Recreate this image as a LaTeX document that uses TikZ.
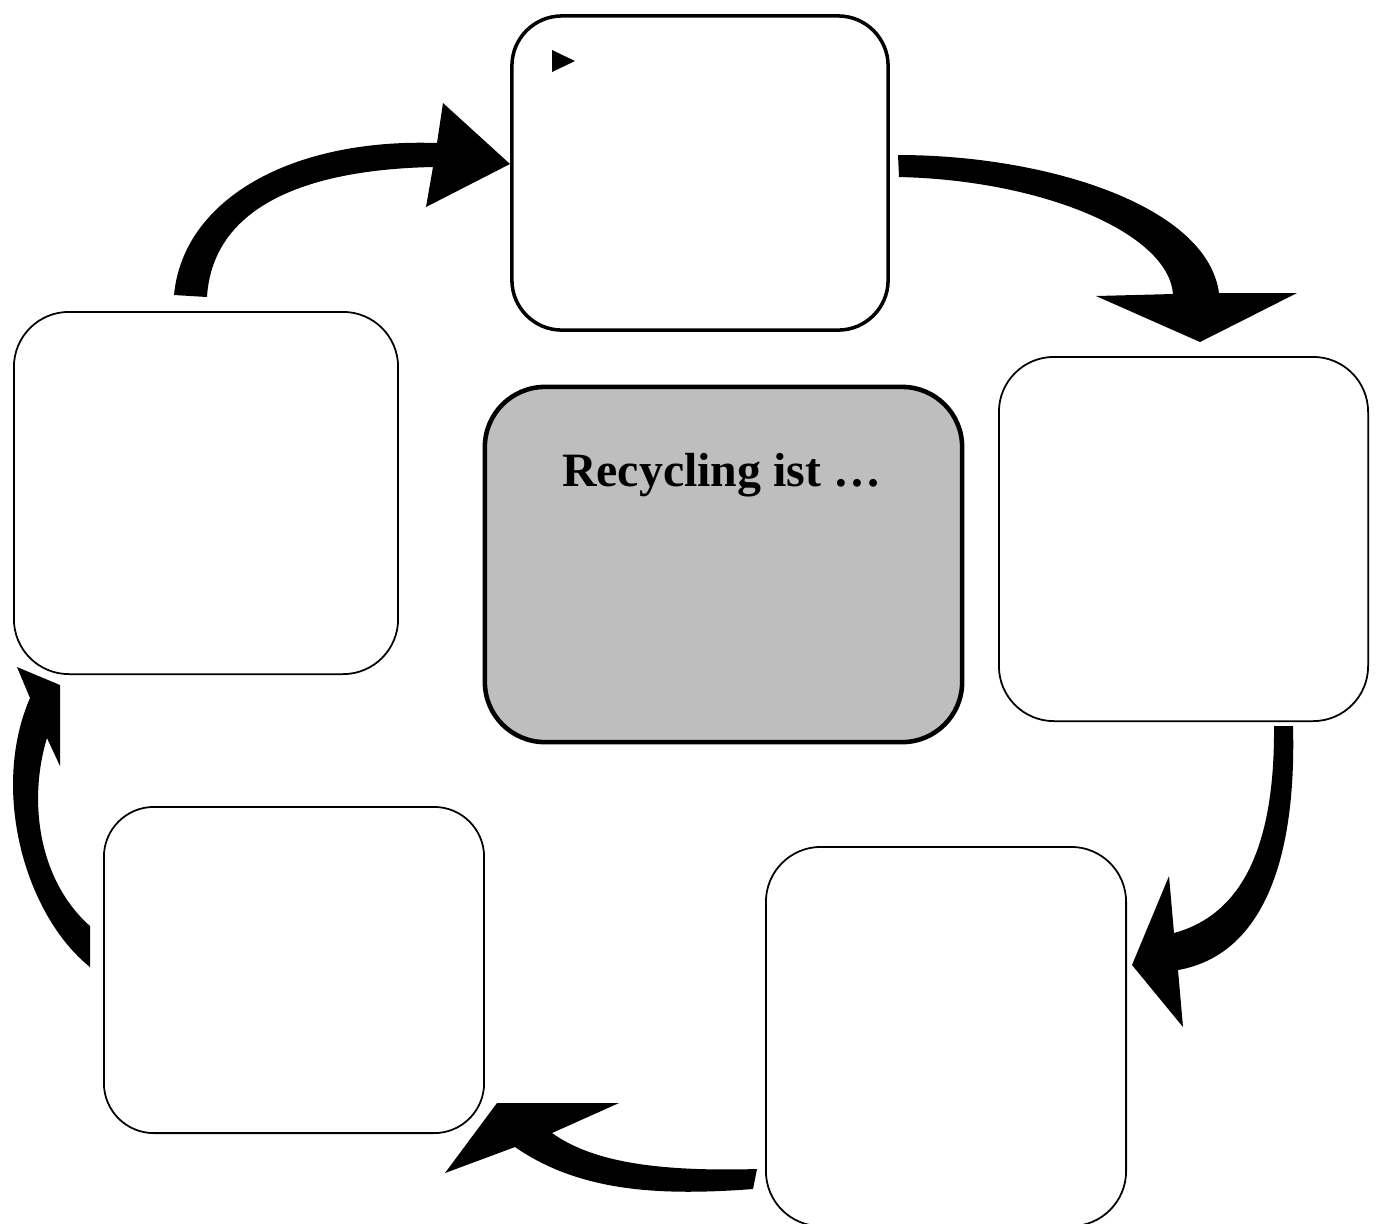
\documentclass[tikz,border=0pt]{standalone}
\usepackage{fontspec}
\setmainfont{Liberation Serif}
\definecolor{boxgray}{HTML}{BEBEBE}

\begin{document}
\begin{tikzpicture}[x=0.01cm,y=-0.01cm,
	stage/.style={draw, rectangle, rounded corners=0.55cm, line width=0.5pt, inner sep=0pt, outer sep=0pt},
	blockarrow/.style={fill=black}]
		\useasboundingbox (0,0) rectangle (1376,1223);

		\node[stage, line width=1pt, rounded corners=0.5cm, minimum width=3.76cm, minimum height=3.14cm] (boxtop) at (700,173) {};
		\node[stage, minimum width=3.69cm, minimum height=3.64cm] (boxright) at (1183.5,539) {};
		\node[stage, minimum width=3.60cm, minimum height=3.79cm] (boxlowright) at (946,1036.5) {};
		\node[stage, rounded corners=0.5cm, minimum width=3.80cm, minimum height=3.26cm] (boxlowleft) at (294,970) {};
		\node[stage, minimum width=3.84cm, minimum height=3.62cm] (boxleft) at (206,493) {};

		\node[stage, fill=boxgray, line width=1.3pt, rounded corners=0.6cm, minimum width=4.77cm, minimum height=3.55cm] (centre) at (723.5,564.5) {};
		\node[anchor=base, font=\bfseries\fontsize{13.6}{16}\selectfont] (title) at (721.5,486) {Recycling ist …};

		% bullet in the top box
		\fill (552,50) -- (575,61) -- (552,72) -- cycle;

		% left -> top
		\fill[blockarrow] (174,295) .. controls (183,200) and (290,138) .. (437,143) -- (443,103) -- (510,164) -- (426,207) -- (433,167) .. controls (290,170) and (212,215) .. (207,297) -- cycle;
		% top -> right
		\fill[blockarrow] (898,155) .. controls (1045,155) and (1207,205) .. (1219,293) -- (1297,293) -- (1200,342) -- (1096,296) -- (1173,294) .. controls (1168,232) and (1040,180) .. (899,177) -- cycle;
		% right -> lower right
		\fill[blockarrow] (1293,726) .. controls (1297,880) and (1252,957) .. (1178,970) -- (1183,1027) -- (1132,965) -- (1169,876) -- (1174,933) .. controls (1240,915) and (1275,850) .. (1274,726) -- cycle;
		% lower right -> lower left
		\fill[blockarrow] (757,1169) .. controls (650,1172) and (590,1160) .. (552,1133) -- (619,1103) -- (497,1103) -- (445,1173) -- (515,1147) .. controls (580,1192) and (660,1196) .. (753,1189) -- cycle;
		% lower left -> left
		\fill[blockarrow] (90,967) .. controls (25,915) and (-10,790) .. (30,698) -- (17,667) -- (60,685) -- (60,766) -- (47,738) .. controls (28,800) and (38,880) .. (90,926) -- cycle;
	\end{tikzpicture}
\end{document}
